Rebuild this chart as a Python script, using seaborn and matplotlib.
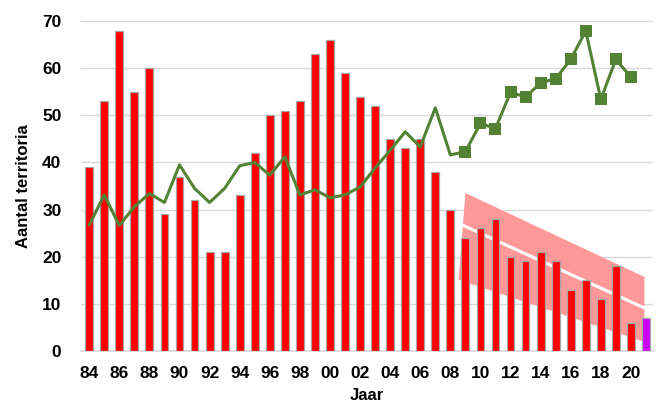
import numpy as np
import pandas as pd
import matplotlib
matplotlib.use("Agg")
import matplotlib.pyplot as plt
import seaborn as sns

years = list(range(1984, 2022))
year_labels = [f"{y % 100:02d}" for y in years]
territoria = [39, 53, 68, 55, 60, 29, 37, 32, 21, 21, 33, 42, 50, 51, 53, 63, 66, 59, 54,
              52, 45, 43, 45, 38, 30, 24, 26, 28, 20, 19, 21, 19, 13, 15, 11, 18, 6, 7]
line_years = list(range(1984, 2021))
line_values = [26.7, 33.1, 26.6, 30.6, 33.4, 31.5, 39.5, 34.5, 31.5, 34.5, 39.3, 40.0, 37.3,
               41.2, 33.1, 34.2, 32.5, 33.1, 34.8, 38.8, 42.6, 46.5, 43.3, 51.6, 41.6,
               42.3, 48.3, 47.2, 54.9, 53.9, 56.9, 57.8, 61.9, 67.9, 53.4, 61.9, 58.1]
marker_start = 2009
# trend band (years, values)
band_upper_x = [2009.0, 2020.9]
band_upper = [33.5, 15.7]
band_lower_x = [2008.55, 2020.9]
band_lower = [15.1, 1.9]
trend_x = [2008.8, 2020.9]
trend_y = [26.7, 9.1]

sns.set_theme(style="white")
plt.rcParams['font.family'] = ['Liberation Sans', 'DejaVu Sans']

fig = plt.figure(figsize=(6.58, 4.07), dpi=100)
ax = fig.add_axes([0.123, 0.138, 0.869, 0.81])

x0 = years[0]
bar_colors = ['#FF0000'] * (len(years) - 1) + ['#CC00FF']
df = pd.DataFrame({'jaar': year_labels, 'n': territoria})
sns.barplot(data=df, x='jaar', y='n', hue='jaar', palette=bar_colors, legend=False,
            width=0.52, edgecolor='#A6A6A6', linewidth=0.9, ax=ax, zorder=3, saturation=1)

# trend band
poly_x = [band_upper_x[0] - x0, band_upper_x[1] - x0, band_lower_x[1] - x0, band_lower_x[0] - x0]
poly_y = [band_upper[0], band_upper[1], band_lower[1], band_lower[0]]
ax.fill(poly_x, poly_y, color='#FF9999', lw=0, zorder=2)
ax.plot([t - x0 for t in trend_x], trend_y, color='white', lw=2.2, zorder=2.5)

ldf = pd.DataFrame({'x': [y - x0 for y in line_years], 'v': line_values})
sns.lineplot(data=ldf, x='x', y='v', color='#548235', lw=2.2, ax=ax, zorder=4)
mdf = ldf[ldf['x'] >= marker_start - x0]
sns.scatterplot(data=mdf, x='x', y='v', marker='s', s=70, color='#548235', edgecolor='#548235',
                linewidth=0, ax=ax, zorder=5, clip_on=False)

ax.set_ylim(0, 70)
ax.set_xlim(-0.55, 37.45)
ax.set_yticks(range(0, 71, 10))
ax.yaxis.grid(True, color='#D9D9D9', lw=1.0, zorder=0)
ax.xaxis.grid(False)
ax.set_axisbelow(True)
ticks = list(range(0, len(years) - 1, 2))
ax.set_xticks(ticks)
ax.set_xticklabels([year_labels[i] for i in ticks])
for lab in ax.get_xticklabels() + ax.get_yticklabels():
    lab.set_fontweight('bold')
    lab.set_fontsize(12.5)
    lab.set_color('#000000')
ax.tick_params(axis='x', length=0, pad=11)
ax.tick_params(axis='y', length=0, pad=14)
for s in ['top', 'right', 'left']:
    ax.spines[s].set_visible(False)
ax.spines['bottom'].set_color('#D9D9D9')
ax.set_xlabel('Jaar', fontsize=12, fontweight='bold', color='black', labelpad=5)
ax.set_ylabel('Aantal territoria', fontsize=12, fontweight='bold', color='black', labelpad=8)

fig.savefig('out.png', dpi=100)
